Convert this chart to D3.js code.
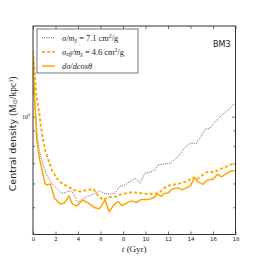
<!DOCTYPE html>
<html>
<head>
<meta charset="utf-8">
<script src="https://cdn.jsdelivr.net/npm/d3@7"></script>
<style>
  body { margin: 0; background: #fff; }
  svg { display: block; }
</style>
</head>
<body>
<svg id="chart" width="262" height="262"></svg>
<script>
// time in Gyr, central density in Msun/kpc^3
let tDot = [0, 0.15, 0.27, 0.38, 0.55, 0.86, 1.22, 1.66, 2.1, 2.55, 2.85, 3.3, 3.6, 3.95, 4.3, 4.77, 5.2, 5.65, 6.0, 6.25, 6.85, 7.3, 7.7, 8.2, 8.6, 9.1, 9.5, 9.95, 10.4, 10.85, 11.1, 11.6, 12.2, 12.9, 13.5, 13.95, 14.55, 15.0, 15.3, 15.7, 16.2, 16.8, 17.4, 18.0];
let rhoDot = [1.24, 1.14, 0.975, 0.858, 0.775, 0.70, 0.64, 0.601, 0.578, 0.556, 0.559, 0.567, 0.556, 0.519, 0.529, 0.542, 0.549, 0.560, 0.567, 0.556, 0.553, 0.556, 0.586, 0.593, 0.608, 0.624, 0.601, 0.649, 0.653, 0.665, 0.691, 0.696, 0.700, 0.736, 0.791, 0.816, 0.816, 0.870, 0.908, 0.915, 0.962, 1.013, 1.058, 1.113];

let tEff = [0, 0.3, 0.55, 0.77, 1.07, 1.37, 1.67, 2.1, 2.55, 3.1, 3.6, 4.2, 4.8, 5.4, 5.8, 6.25, 6.7, 7.3, 7.9, 8.5, 9.1, 9.7, 10.25, 10.9, 11.4, 11.75, 12.1, 12.6, 13.2, 13.75, 14.2, 14.6, 15.05, 15.5, 16.1, 16.6, 17.15, 17.6, 18.0];
let rhoEff = [1.65, 1.18, 1.03, 0.892, 0.775, 0.718, 0.665, 0.624, 0.601, 0.586, 0.571, 0.564, 0.571, 0.574, 0.545, 0.529, 0.540, 0.542, 0.553, 0.559, 0.560, 0.556, 0.553, 0.555, 0.566, 0.582, 0.591, 0.595, 0.602, 0.611, 0.627, 0.619, 0.640, 0.655, 0.655, 0.668, 0.681, 0.694, 0.696];

let tDiff = [0, 0.15, 0.33, 0.6, 1.07, 1.2, 1.55, 1.9, 2.4, 2.8, 3.2, 3.5, 3.9, 4.4, 4.9, 5.5, 5.9, 6.4, 6.76, 7.1, 7.35, 7.6, 7.9, 8.3, 8.75, 9.2, 9.6, 10.2, 10.7, 11.1, 11.4, 11.6, 12.0, 12.4, 12.9, 13.25, 13.7, 14.0, 14.35, 14.65, 15.1, 15.5, 16.0, 16.4, 16.75, 17.2, 17.6, 18.0];
let rhoDiff = [1.60, 1.14, 0.837, 0.718, 0.60, 0.593, 0.597, 0.537, 0.513, 0.517, 0.545, 0.513, 0.505, 0.529, 0.517, 0.498, 0.494, 0.529, 0.484, 0.503, 0.516, 0.522, 0.506, 0.516, 0.525, 0.518, 0.531, 0.531, 0.537, 0.553, 0.543, 0.555, 0.558, 0.575, 0.580, 0.571, 0.582, 0.589, 0.628, 0.607, 0.596, 0.616, 0.620, 0.644, 0.631, 0.648, 0.660, 0.663];

let xTicks = [0, 2, 4, 6, 8, 10, 12, 14, 16, 18];
let yMinorTicks = [0.5, 0.6, 0.7, 0.8, 0.9];

let margin = { top: 26, right: 26.5, bottom: 27.5, left: 33 };
let width = 262 - margin.left - margin.right;
let height = 262 - margin.top - margin.bottom;
let orange = '#ffa500';
let gray = '#555';

let x = d3.scaleLinear().domain([0, 18]).range([0, width]);
let y = d3.scaleLog().domain([0.406, 2.0]).range([height, 0]);

let svg = d3.select('#chart');
let g = svg.append('g').attr('transform', 'translate(' + margin.left + ',' + margin.top + ')');

// inward ticks on all four sides
function tickAxis(axis, tr) {
    let a = g.append('g').attr('transform', tr).call(axis);
    a.select('.domain').remove();
    a.selectAll('line').attr('stroke', '#333').attr('stroke-width', 0.7);
    a.selectAll('text').attr('fill', '#222');
    return a;
}

let xb = tickAxis(d3.axisBottom(x).tickValues(xTicks).tickSize(-3).tickPadding(3).tickFormat(d3.format('d')), 'translate(0,' + height + ')');
xb.selectAll('text').attr('font-family', 'DejaVu Sans').attr('font-size', 5.5);
tickAxis(d3.axisTop(x).tickValues(xTicks).tickSize(-3).tickFormat(''), 'translate(0,0)');

tickAxis(d3.axisLeft(y).tickValues(yMinorTicks).tickSize(-2).tickFormat(''), 'translate(0,0)');
tickAxis(d3.axisRight(y).tickValues(yMinorTicks).tickSize(-2).tickFormat(''), 'translate(' + width + ',0)');
tickAxis(d3.axisLeft(y).tickValues([1]).tickSize(-3.5).tickFormat(''), 'translate(0,0)');
tickAxis(d3.axisRight(y).tickValues([1]).tickSize(-3.5).tickFormat(''), 'translate(' + width + ',0)');

// 10^0 label
let lab = g.append('text').attr('x', -3).attr('y', y(1) + 2)
    .attr('text-anchor', 'end').attr('font-family', 'Liberation Serif').attr('font-size', 6).attr('fill', '#222');
lab.append('tspan').text('10');
lab.append('tspan').attr('font-size', 4).attr('dy', -2.5).text('0');

// curves
let line = d3.line().x(d => x(d[0])).y(d => y(d[1]));
svg.append('clipPath').attr('id', 'clip').append('rect').attr('width', width).attr('height', height);

let curves = g.append('g').attr('clip-path', 'url(#clip)');
curves.append('path').datum(d3.zip(tDot, rhoDot)).attr('d', line)
    .attr('fill', 'none').attr('stroke', gray).attr('stroke-width', 0.9).attr('stroke-dasharray', '1,1.2');
curves.append('path').datum(d3.zip(tEff, rhoEff)).attr('d', line)
    .attr('fill', 'none').attr('stroke', orange).attr('stroke-width', 1.9).attr('stroke-dasharray', '3,2.2');
curves.append('path').datum(d3.zip(tDiff, rhoDiff)).attr('d', line)
    .attr('fill', 'none').attr('stroke', orange).attr('stroke-width', 1.5).attr('stroke-linejoin', 'round');

// frame
g.append('rect').attr('width', width).attr('height', height)
    .attr('fill', 'none').attr('stroke', '#333').attr('stroke-width', 1);

// legend
let leg = g.append('g').attr('transform', 'translate(4,3)');
leg.append('rect').attr('width', 101).attr('height', 44)
    .attr('fill', '#fff').attr('fill-opacity', 0.85).attr('stroke', '#555').attr('stroke-width', 0.8);
let legItems = [
    { color: gray, w: 0.9, dash: '1,1.2' },
    { color: orange, w: 1.9, dash: '3,2.2' },
    { color: orange, w: 1.5, dash: null }
];
legItems.forEach(function (it, i) {
    let yy = 8.7 + i * 14.2;
    leg.append('line').attr('x1', 5).attr('x2', 18).attr('y1', yy).attr('y2', yy)
        .attr('stroke', it.color).attr('stroke-width', it.w).attr('stroke-dasharray', it.dash);
});
let lt = leg.append('g').attr('font-family', 'Liberation Serif').attr('font-size', 8.4).attr('fill', '#222');
let t1 = lt.append('text').attr('x', 25).attr('y', 11.5);
t1.append('tspan').attr('font-style', 'italic').text('σ/m');
t1.append('tspan').attr('font-style', 'italic').attr('font-size', 5.8).attr('dy', 1.7).text('χ');
t1.append('tspan').attr('dy', -1.7).text(' = 7.1 cm');
t1.append('tspan').attr('font-size', 5.8).attr('dy', -3).text('2');
t1.append('tspan').attr('dy', 3).text('/g');
let t2 = lt.append('text').attr('x', 25).attr('y', 25.7);
t2.append('tspan').attr('font-style', 'italic').text('σ');
t2.append('tspan').attr('font-style', 'italic').attr('font-size', 5.8).attr('dy', 1.7).text('eff');
t2.append('tspan').attr('font-style', 'italic').attr('dy', -1.7).text('/m');
t2.append('tspan').attr('font-style', 'italic').attr('font-size', 5.8).attr('dy', 1.7).text('χ');
t2.append('tspan').attr('dy', -1.7).text(' = 4.6 cm');
t2.append('tspan').attr('font-size', 5.8).attr('dy', -3).text('2');
t2.append('tspan').attr('dy', 3).text('/g');
lt.append('text').attr('x', 25).attr('y', 39.9).attr('font-style', 'italic').text('dσ/dcosθ');

// BM3 tag
g.append('text').attr('x', 180).attr('y', 21).attr('font-family', 'DejaVu Sans')
    .attr('font-size', 8).attr('fill', '#222').text('BM3');

// axis labels
let xl = svg.append('text').attr('x', margin.left + width / 2).attr('y', 251.5)
    .attr('text-anchor', 'middle').attr('font-family', 'Liberation Serif').attr('font-size', 9).attr('fill', '#222');
xl.append('tspan').attr('font-style', 'italic').text('t');
xl.append('tspan').text(' (Gyr)');

let yl = svg.append('text').attr('transform', 'translate(15.5,134) rotate(-90)')
    .attr('text-anchor', 'middle').attr('font-size', 9.5).attr('fill', '#222');
yl.append('tspan').attr('font-family', 'DejaVu Sans').text('Central density ');
yl.append('tspan').attr('font-family', 'Liberation Serif').text('(M');
yl.append('tspan').attr('font-family', 'DejaVu Sans').attr('font-size', 6).attr('dy', 1.5).text('⊙');
yl.append('tspan').attr('font-family', 'Liberation Serif').attr('dy', -1.5).text('/kpc');
yl.append('tspan').attr('font-family', 'Liberation Serif').attr('font-size', 6).attr('dy', -3).text('3');
yl.append('tspan').attr('font-family', 'Liberation Serif').attr('dy', 3).text(')');
</script>
</body>
</html>
